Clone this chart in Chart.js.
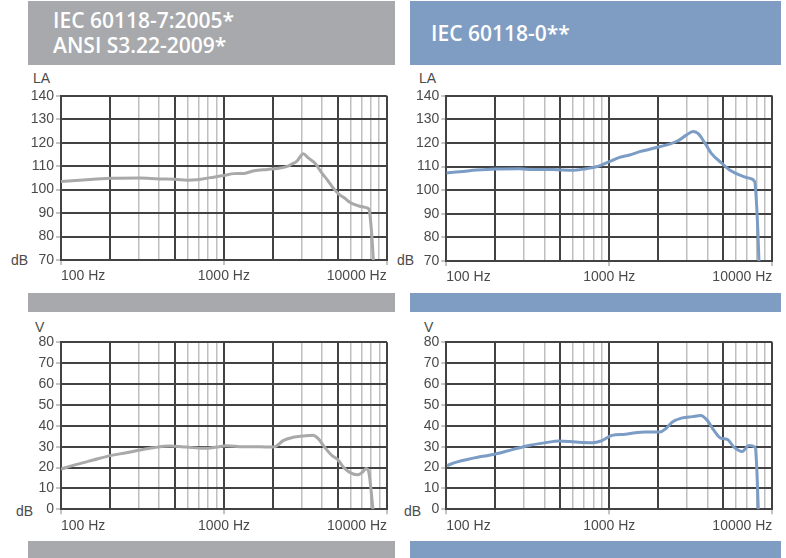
<!DOCTYPE html>
<html>
<head>
<meta charset="utf-8">
<script src="https://cdn.jsdelivr.net/npm/chart.js@4.4.1/dist/chart.umd.min.js"></script>
<style>
  html, body { margin: 0; padding: 0; background: #fff; }
  body { width: 786px; height: 558px; position: relative; overflow: hidden; font-family: "Liberation Sans", Arial, sans-serif; }
  .bar { position: absolute; }
  .gray { background: #a7a9ac; }
  .blue { background: #7f9dc3; }
  .title { position: absolute; color: #fff; font-family: "Open Sans", "Noto Sans", sans-serif; font-weight: 600; font-size: 21px; line-height: 25px; white-space: nowrap; }
  .lbl { position: absolute; color: #4a4a4a; font-size: 14px; line-height: 14px; }
  canvas { position: absolute; }
</style>
</head>
<body>
<div class="bar gray" style="left:28px; top:1px; width:367px; height:64px;"></div>
<div class="bar blue" style="left:410px; top:1px; width:371px; height:64px;"></div>
<div class="title" style="left:53px; top:8px;">IEC 60118-7:2005*<br>ANSI S3.22-2009*</div>
<div class="title" style="left:431px; top:21px;">IEC 60118-0**</div>

<div class="bar gray" style="left:28px; top:293px; width:367px; height:19px;"></div>
<div class="bar blue" style="left:410px; top:293px; width:371px; height:19px;"></div>
<div class="bar gray" style="left:28px; top:541px; width:367px; height:17px;"></div>
<div class="bar blue" style="left:410px; top:541px; width:371px; height:17px;"></div>

<div class="lbl" style="left:33px; top:71px;">LA</div>
<div class="lbl" style="left:11px; top:253px;">dB</div>
<div class="lbl" style="left:419px; top:71px;">LA</div>
<div class="lbl" style="left:397px; top:253px;">dB</div>
<div class="lbl" style="left:35px; top:320px;">V</div>
<div class="lbl" style="left:16px; top:504px;">dB</div>
<div class="lbl" style="left:424px; top:320px;">V</div>
<div class="lbl" style="left:404px; top:504px;">dB</div>

<canvas id="c1" width="393" height="205" style="left:0; top:80px;"></canvas>
<canvas id="c2" width="393" height="205" style="left:393px; top:80px;"></canvas>
<canvas id="c3" width="393" height="215" style="left:0; top:320px;"></canvas>
<canvas id="c4" width="393" height="215" style="left:393px; top:320px;"></canvas>

<script>
// grid frequencies (log paper)
const gridFreqs = [100, 200, 300, 400, 500, 600, 700, 800, 900, 1000,
                   2000, 3000, 4000, 5000, 6000, 7000, 8000, 9000, 10000];
const majorFreqs = [100, 200, 500, 1000, 2000, 5000, 10000];
const labeledFreqs = [100, 1000, 10000];

// IEC 60118-7 / ANSI S3.22 - output level (LA, dB)
const iec7LaFreq = [100, 137, 200, 306, 400, 500, 595, 685, 828, 1000, 1155, 1328, 1531, 1850, 2130,
                    2455, 2600, 2800, 3076, 3300, 3631, 4000, 4330, 4710, 5100, 5485, 6000, 6750, 7640, 7810, 8090, 8280];
const iec7LaLevel = [103.4, 104.1, 104.8, 104.9, 104.5, 104.4, 104.0, 104.2, 105.1, 106.0, 106.8, 106.9, 108.0, 108.6, 109.0,
                     109.9, 110.8, 112.0, 115.3, 113.5, 111.2, 107.0, 104.0, 100.5, 98.0, 96.5, 94.4, 93.0, 92.1, 91.3, 81.0, 70];

// IEC 60118-0 - output level (LA, dB)
const iec0LaFreq = [100, 121, 153, 200, 282, 340, 451, 598, 722, 832, 1000, 1157, 1333, 1536, 1767, 2036,
                    2345, 2637, 2966, 3258, 3500, 3846, 4226, 4863, 5471, 6310, 7263, 7797, 7980, 8166, 8280];
const iec0LaLevel = [107.4, 107.8, 108.5, 109.0, 109.1, 108.7, 108.7, 108.4, 109.1, 109.9, 112.1, 113.9, 114.9, 116.3, 117.3, 118.4,
                     119.5, 120.9, 123.3, 124.8, 124.0, 120.1, 115.6, 111.6, 108.5, 106.4, 105.0, 103.6, 95.8, 81.7, 70];

// IEC 60118-7 / ANSI S3.22 - gain (V, dB)
const iec7VFreq = [100, 125, 158, 200, 252, 305, 368, 466, 589, 745, 899, 1036, 1309, 1658, 2000, 2099,
                   2306, 2656, 3058, 3519, 3772, 4147, 4557, 5012, 5375, 5904, 6633, 7129, 7467, 7762, 8017, 8204];
const iec7VGain = [19.3, 21.5, 23.6, 25.7, 27.1, 28.4, 29.5, 30.3, 29.8, 29.2, 29.8, 30.5, 30.0, 30.0, 29.8, 30.3,
                   32.9, 34.5, 35.1, 35.5, 34.0, 29.7, 26.0, 23.6, 20.4, 17.7, 16.5, 18.0, 19.6, 17.2, 7.7, 0];

// IEC 60118-0 - gain (V, dB)
const iec0VFreq = [101, 114, 144, 200, 254, 321, 406, 491, 621, 786, 890, 1038, 1254, 1445, 1663, 1915,
                   2047, 2218, 2438, 2805, 3229, 3632, 3990, 4386, 4819, 5295, 5818, 6548, 7194, 7834, 8017, 8204];
const iec0VGain = [20.9, 22.5, 24.4, 26.5, 28.6, 30.6, 31.9, 32.7, 32.2, 31.9, 32.7, 35.4, 36.0, 36.7, 37.0, 37.0,
                   37.0, 38.6, 41.8, 43.8, 44.4, 44.9, 42.6, 37.8, 34.1, 33.5, 29.8, 27.7, 30.6, 29.8, 20.9, 0];

const DARK = '#424242';
const LIGHT = '#bfbfbf';
const TEXT = '#4a4a4a';
const FONT = { family: '"Liberation Sans", Arial, sans-serif', size: 14 };

function makeChart(id, freqs, values, color, yMin, yMax, box) {
  const pts = freqs.map((f, i) => ({ x: f, y: values[i] }));
  return new Chart(document.getElementById(id), {
    type: 'line',
    data: {
      datasets: [{
        data: pts,
        borderColor: color,
        borderWidth: 3,
        pointRadius: 0,
        tension: 0.35,
        cubicInterpolationMode: 'monotone',
        fill: false
      }]
    },
    options: {
      responsive: false,
      animation: false,
      events: [],
      layout: { padding: { left: 0, right: box.right, top: box.top, bottom: 0 } },
      plugins: { legend: { display: false }, tooltip: { enabled: false } },
      scales: {
        x: {
          type: 'logarithmic',
          min: 100,
          max: 10000,
          afterBuildTicks: (s) => { s.ticks = gridFreqs.map(v => ({ value: v })); },
          afterFit: (s) => { s.height = box.xh; },
          border: { color: DARK, width: 2 },
          grid: {
            color: (c) => majorFreqs.includes(c.tick && c.tick.value) ? DARK : LIGHT,
            lineWidth: (c) => majorFreqs.includes(c.tick && c.tick.value) ? 2 : 1.5,
            tickLength: 5,
            tickColor: (c) => labeledFreqs.includes(c.tick && c.tick.value) ? '#888' : 'rgba(0,0,0,0)',
            tickWidth: 1
          },
          ticks: {
            autoSkip: false,
            maxRotation: 0,
            align: 'inner',
            padding: 3,
            color: TEXT,
            font: FONT,
            callback: (v) => labeledFreqs.includes(v) ? v + ' Hz' : ''
          }
        },
        y: {
          min: yMin,
          max: yMax,
          afterFit: (s) => { s.width = box.yw; },
          border: { color: DARK, width: 2 },
          grid: { color: DARK, lineWidth: 2, tickLength: 5, tickColor: '#888', tickWidth: 1 },
          ticks: { stepSize: 10, padding: 2, color: TEXT, font: FONT }
        }
      }
    }
  });
}

const GRAY_LINE = '#a9a9a9';
const BLUE_LINE = '#7b9cc5';

makeChart('c1', iec7LaFreq, iec7LaLevel, GRAY_LINE, 70, 140, { yw: 61, xh: 25, top: 15.7, right: 6.3 });
makeChart('c2', iec0LaFreq, iec0LaLevel, BLUE_LINE, 70, 140, { yw: 53.3, xh: 24, top: 15.7, right: 13.7 });
makeChart('c3', iec7VFreq, iec7VGain, GRAY_LINE, 0, 80, { yw: 61, xh: 25.7, top: 22.3, right: 6 });
makeChart('c4', iec0VFreq, iec0VGain, BLUE_LINE, 0, 80, { yw: 53.3, xh: 25.7, top: 22.3, right: 13.7 });
</script>
</body>
</html>
